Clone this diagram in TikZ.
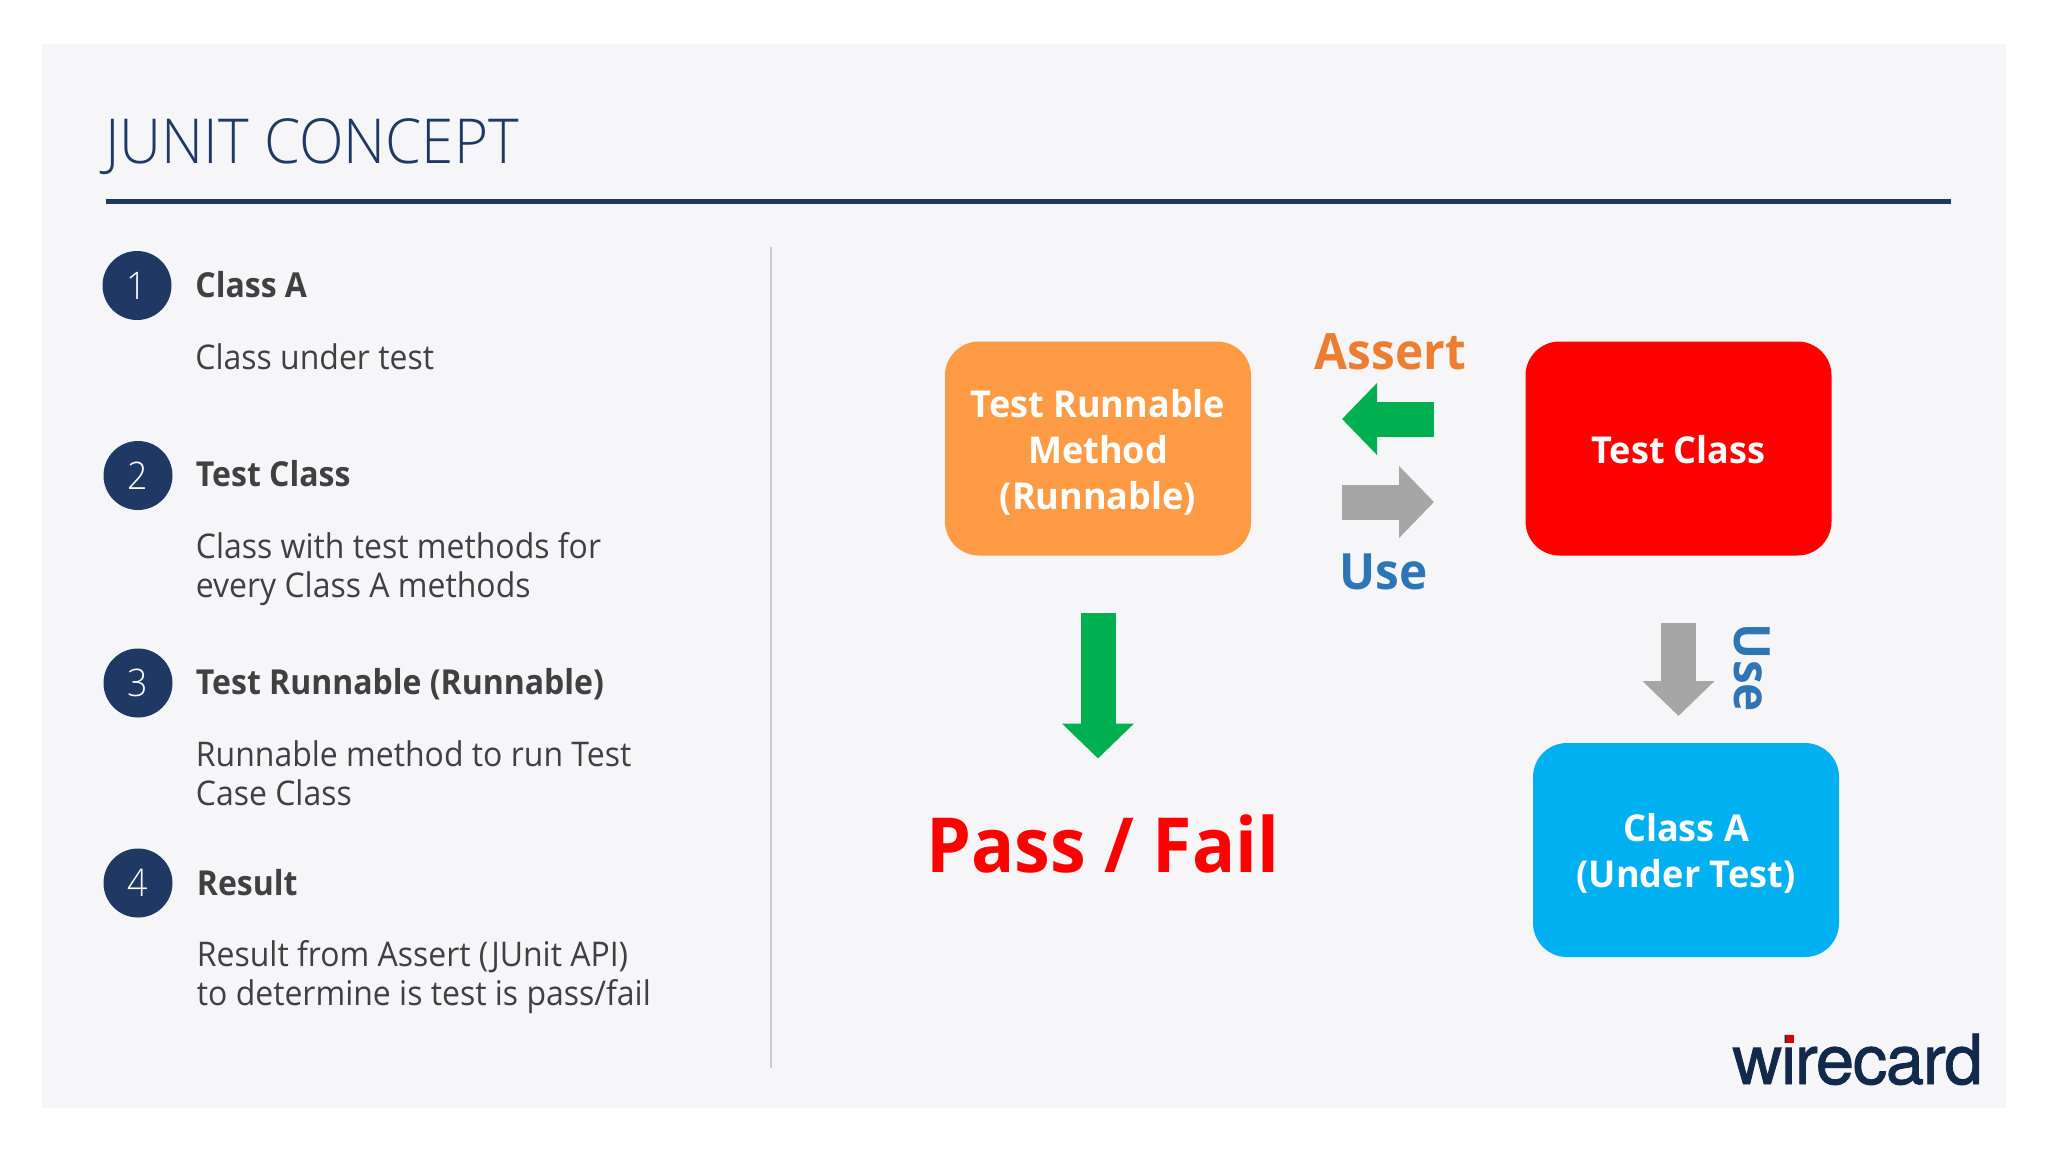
\documentclass[tikz,border=0pt]{standalone}
\usepackage{fontspec}
\usetikzlibrary{arrows.meta}
\setmainfont[FakeStretch=0.93]{Open Sans}
\newfontfamily\titlef[FakeStretch=0.94]{Open Sans Light}
\newfontfamily\bodyf[FakeStretch=0.94]{Open Sans}
\newfontfamily\cardf[FakeStretch=0.975]{Open Sans}
\newfontfamily\wordf[FakeStretch=0.955]{Open Sans}
\newfontfamily\bigf[FakeStretch=0.944]{Open Sans}
\newfontfamily\logof[LetterSpace=-2,FakeBold=1.2,FakeStretch=1.0]{TeX Gyre Heros}
\definecolor{panel}{HTML}{F6F6F8}
\definecolor{navy}{HTML}{1F3864}
\definecolor{ink}{HTML}{404040}
\definecolor{orangebox}{HTML}{FF9B45}
\definecolor{redbox}{HTML}{FF0000}
\definecolor{bluebox}{HTML}{00B0F0}
\definecolor{greenar}{HTML}{00B050}
\definecolor{grayar}{HTML}{A6A6A6}
\definecolor{usecol}{HTML}{2E75B6}
\definecolor{assertcol}{HTML}{ED7D31}
\definecolor{logocol}{HTML}{12294B}
\tikzset{
  x=0.5pt,y=-0.5pt,
  num/.style={circle,fill=navy,text=white,minimum size=34.5pt,inner sep=0pt,font=\titlef\fontsize{19}{22}\selectfont},
  head/.style={anchor=base west,inner sep=0pt,text=ink,font=\fontsize{17.2}{20}\bfseries\selectfont},
  body/.style={anchor=base west,inner sep=0pt,text=ink,align=left,font=\bodyf\fontsize{17}{19.3}\selectfont},
  card/.style={rounded corners=17pt,minimum width=153pt,minimum height=107pt,inner sep=0pt},
  cardtext/.style={inner sep=0pt,text=white,align=center,font=\cardf\fontsize{18.5}{23}\bfseries\selectfont},
  blockarrow/.style={-{Triangle[length=17.5pt,width=35pt]},line width=17.5pt},
  word/.style={anchor=base west,inner sep=0pt,font=\wordf\fontsize{25}{29}\bfseries\selectfont},
}
\begin{document}
\begin{tikzpicture}
\useasboundingbox (0,0) rectangle (2048,1152);
\fill[white] (0,0) rectangle (2048,1152);
\fill[panel] (42,44) rectangle (2006,1108);
\node[anchor=base west,inner sep=0pt,text=navy,font=\titlef\fontsize{31}{36}\selectfont] (title) at (105,163) {JUNIT CONCEPT};
\coordinate (ruleL) at (106,201);
\coordinate (ruleR) at (1951,201);
\draw[navy,line width=2.5pt] (ruleL) -- (ruleR);
\coordinate (divT) at (771,247);
\coordinate (divB) at (771,1068);
\draw[black!20,line width=0.8pt] (divT) -- (divB);

\node[num] (n1) at (137,285.5) {1};
\node[head] (h1) at (195,297) {Class A};
\node[body] (b1) at (195,369.5) {Class under test};

\node[num] (n2) at (138,475.5) {2};
\node[head] (h2) at (195.5,486) {Test Class};
\node[body] (b2) at (195.5,597.5) {Class with test methods for\\every Class A methods};

\node[num] (n3) at (138,683) {3};
\node[head] (h3) at (195.5,694.5) {Test Runnable (Runnable)};
\node[body] (b3) at (195.5,805.5) {Runnable method to run Test\\Case Class};

\node[num] (n4) at (138,883) {4};
\node[head] (h4) at (196.5,895) {Result};
\node[body] (b4) at (196.5,1005.5) {Result from Assert (JUnit API)\\to determine is test is pass/fail};

\node[card,fill=orangebox] (runnable) at (1098,448.5) {};
\node[cardtext] (runnablet) at ([yshift=-1.75pt]runnable.center) {Test Runnable\\Method\\(Runnable)};
\node[card,fill=redbox] (testclass) at (1678.5,448.5) {};
\node[cardtext] (testclasst) at ([yshift=-0.6pt]testclass.center) {Test Class};
\node[card,fill=bluebox] (classa) at (1686,850) {};
\node[cardtext] (classat) at ([yshift=-1.75pt]classa.center) {Class A\\(Under Test)};

\coordinate (g1s) at (1434,419);
\coordinate (g1e) at (1342,419);
\draw[blockarrow,greenar] (g1s) -- (g1e);
\coordinate (g2s) at (1342,502);
\coordinate (g2e) at (1434,502);
\draw[blockarrow,grayar] (g2s) -- (g2e);
\coordinate (g3s) at (1098,612.5);
\coordinate (g3e) at (1098,758.5);
\draw[blockarrow,greenar] (g3s) -- (g3e);
\coordinate (g4s) at (1678.5,623);
\coordinate (g4e) at (1678.5,716);
\draw[blockarrow,grayar] (g4s) -- (g4e);

\node[word,text=assertcol] (assert) at (1314.5,369) {Assert};
\node[word,text=usecol] (use1) at (1339,589) {Use};
\node[word,text=usecol,rotate=-90] (use2) at (1734,623.5) {Use};
\node[anchor=base west,inner sep=0pt,text=redbox,font=\bigf\fontsize{38}{44}\bfseries\selectfont] (passfail) at (926,872) {Pass / Fail};

\node[anchor=base west,inner sep=0pt,text=logocol,font=\logof\fontsize{34.5}{40}\selectfont] (logo) at (1732,1084) {wirecard};
\fill[red!85!black] (1786,1035) rectangle (1794,1042.5);
\end{tikzpicture}
\end{document}
